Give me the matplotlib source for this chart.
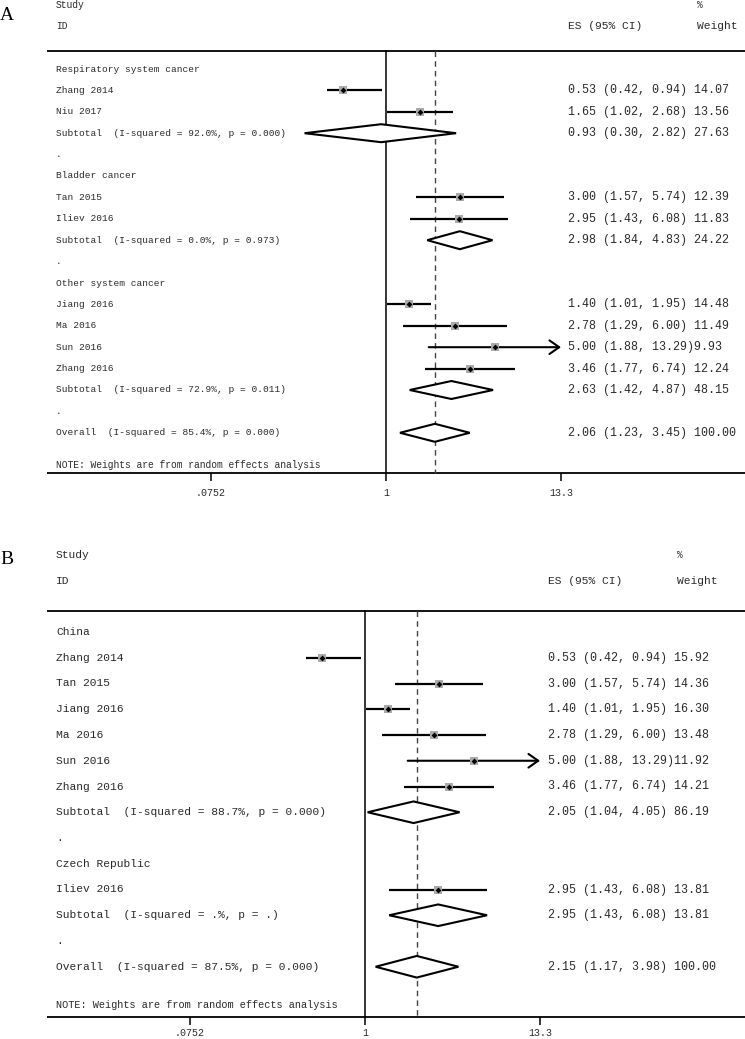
import numpy as np
import matplotlib
matplotlib.use("Agg")
import matplotlib.pyplot as plt
from matplotlib.patches import Polygon
from matplotlib.transforms import blended_transform_factory

# ---------------- data ----------------
# Panel A
labels_a = ["Respiratory system cancer", "Zhang 2014", "Niu 2017",
            "Subtotal  (I-squared = 92.0%, p = 0.000)", ".",
            "Bladder cancer", "Tan 2015", "Iliev 2016",
            "Subtotal  (I-squared = 0.0%, p = 0.973)", ".",
            "Other system cancer", "Jiang 2016", "Ma 2016", "Sun 2016", "Zhang 2016",
            "Subtotal  (I-squared = 72.9%, p = 0.011)", ".",
            "Overall  (I-squared = 85.4%, p = 0.000)"]
kinds_a = ["h", "s", "s", "d", "b", "h", "s", "s", "d", "b",
           "h", "s", "s", "s", "s", "d", "b", "d"]
es_a = [None, 0.53, 1.65, 0.93, None, None, 3.00, 2.95, 2.98, None,
        None, 1.40, 2.78, 5.00, 3.46, 2.63, None, 2.06]
lo_a = [None, 0.42, 1.02, 0.30, None, None, 1.57, 1.43, 1.84, None,
        None, 1.01, 1.29, 1.88, 1.77, 1.42, None, 1.23]
hi_a = [None, 0.94, 2.68, 2.82, None, None, 5.74, 6.08, 4.83, None,
        None, 1.95, 6.00, 13.29, 6.74, 4.87, None, 3.45]
wt_a = [None, 14.07, 13.56, 27.63, None, None, 12.39, 11.83, 24.22, None,
        None, 14.48, 11.49, 9.93, 12.24, 48.15, None, 100.00]

# Panel B
labels_b = ["China", "Zhang 2014", "Tan 2015", "Jiang 2016", "Ma 2016", "Sun 2016",
            "Zhang 2016", "Subtotal  (I-squared = 88.7%, p = 0.000)", ".",
            "Czech Republic", "Iliev 2016", "Subtotal  (I-squared = .%, p = .)", ".",
            "Overall  (I-squared = 87.5%, p = 0.000)"]
kinds_b = ["h", "s", "s", "s", "s", "s", "s", "d", "b", "h", "s", "d", "b", "d"]
es_b = [None, 0.53, 3.00, 1.40, 2.78, 5.00, 3.46, 2.05, None, None, 2.95, 2.95, None, 2.15]
lo_b = [None, 0.42, 1.57, 1.01, 1.29, 1.88, 1.77, 1.04, None, None, 1.43, 1.43, None, 1.17]
hi_b = [None, 0.94, 5.74, 1.95, 6.00, 13.29, 6.74, 4.05, None, None, 6.08, 6.08, None, 3.98]
wt_b = [None, 15.92, 14.36, 16.30, 13.48, 11.92, 14.21, 86.19, None, None, 13.81, 13.81, None, 100.00]

xticks = [0.0752, 1, 13.3]
xticklabels = [".0752", "1", "13.3"]
note = "NOTE: Weights are from random effects analysis"

# ---------------- layout ----------------
W, H = 745, 1039
fig = plt.figure(figsize=(W / 100, H / 100), dpi=100)
MONO = "Liberation Mono"
TXT = "#2a2a2a"


def fx(p):
    return p / W


def draw_panel(letter, letter_y, y_top, row0, row_h, y_ax, null_px,
               labels, kinds, es, lo, hi, wt,
               lab_fs, es_fs, head_fs, note_fs, es_x, wt_x, tick_pad):
    left_px = null_px - 175
    right_px = null_px + 175
    ax = fig.add_axes([fx(left_px), 1 - y_ax / H, fx(right_px - left_px), (y_ax - y_top) / H])
    ax.set_xscale("log")
    ax.set_xlim(xticks[0], xticks[-1])
    top_row = (y_top - row0) / row_h
    bot_row = (y_ax - row0) / row_h
    ax.set_ylim(bot_row, top_row)
    for s in ax.spines.values():
        s.set_visible(False)
    ax.set_yticks([])
    ax.set_xticks(xticks)
    ax.set_xticklabels(xticklabels, fontfamily=MONO, fontsize=7.2, color=TXT)
    ax.minorticks_off()
    ax.tick_params(axis="x", direction="out", length=6, width=1.1, pad=tick_pad, color="black")
    ax.patch.set_alpha(0)

    tr = blended_transform_factory(fig.transFigure, ax.transData)
    line_row = -0.83

    # horizontal rules
    ax.plot([fx(47), 1.0], [line_row, line_row], color="black", lw=1.3,
            transform=tr, clip_on=False, solid_capstyle="butt")
    ax.plot([fx(47), 1.0], [bot_row, bot_row], color="black", lw=1.3,
            transform=tr, clip_on=False, solid_capstyle="butt")

    # null line and overall dashed line
    ax.plot([1, 1], [line_row, bot_row], color="black", lw=1.1, clip_on=False)
    overall = es[-1]
    ax.plot([overall, overall], [line_row, bot_row], color="#444444", lw=1.0,
            linestyle=(0, (4, 3)), clip_on=False)

    # headers
    ax.text(fx(56), -3.0, "Study", transform=tr, fontfamily=MONO, fontsize=head_fs[0],
            color=TXT, va="center", ha="left")
    ax.text(fx(56), -2.0, "ID", transform=tr, fontfamily=MONO, fontsize=head_fs[0],
            color=TXT, va="center", ha="left")
    ax.text(fx(es_x), -2.0, "ES (95% CI)", transform=tr, fontfamily=MONO,
            fontsize=head_fs[1], color=TXT, va="center", ha="left")
    ax.text(fx(wt_x), -3.0, "%", transform=tr, fontfamily=MONO,
            fontsize=head_fs[1] * 0.85, color=TXT, va="center", ha="left")
    ax.text(fx(wt_x), -2.0, "Weight", transform=tr, fontfamily=MONO,
            fontsize=head_fs[1], color=TXT, va="center", ha="left")

    fig.text(0.0, 1 - letter_y / H, letter, fontfamily="Liberation Serif", fontsize=14,
             color="black", va="center", ha="left")

    xmax = xticks[-1]
    for r, (lab, k) in enumerate(zip(labels, kinds)):
        ax.text(fx(56), r, lab, transform=tr, fontfamily=MONO, fontsize=lab_fs,
                color=TXT, va="center", ha="left")
        if k in ("s", "d"):
            e, l, h, w = es[r], lo[r], hi[r], wt[r]
            s = f"{e:.2f} ({l:.2f}, {h:.2f})"
            ax.text(fx(es_x), r, f"{s:<18}{w:.2f}", transform=tr, fontfamily=MONO,
                    fontsize=es_fs, color=TXT, va="center", ha="left")
        if k == "s":
            if h >= 0.99 * xmax:
                ax.annotate("", xy=(xmax, r), xytext=(l, r), annotation_clip=False,
                            arrowprops=dict(arrowstyle="->,head_length=0.5,head_width=0.35",
                                            lw=1.5, color="black", mutation_scale=14,
                                            shrinkA=0, shrinkB=0))
            else:
                ax.plot([l, h], [r, r], color="black", lw=1.6, clip_on=False,
                        solid_capstyle="butt", zorder=2)
            ax.plot([e], [r], marker="s", markersize=1.6 * np.sqrt(w),
                    color="#aaaaaa", markeredgewidth=0, zorder=3, clip_on=False)
            ax.plot([e], [r], marker="D", markersize=3.0, color="black",
                    markeredgewidth=0, zorder=4, clip_on=False)
        elif k == "d":
            poly = Polygon([(l, r), (e, r - 0.42), (h, r), (e, r + 0.42)], closed=True,
                           facecolor="white", edgecolor="black", lw=1.5, zorder=3,
                           clip_on=False, joinstyle="miter")
            ax.add_patch(poly)

    note_row = len(labels) + 0.5
    ax.text(fx(56), note_row, note, transform=tr, fontfamily=MONO, fontsize=note_fs,
            color=TXT, va="center", ha="left")
    return ax


draw_panel("A", 15, 0, 69, 21.4, 473, 386, labels_a, kinds_a, es_a, lo_a, hi_a, wt_a,
           lab_fs=6.8, es_fs=8.4, head_fs=(6.9, 8.1), note_fs=6.9, es_x=568, wt_x=697,
           tick_pad=5)
draw_panel("B", 560, 540, 632, 25.75, 1017, 365, labels_b, kinds_b, es_b, lo_b, hi_b, wt_b,
           lab_fs=8.1, es_fs=8.4, head_fs=(8.1, 8.1), note_fs=7.4, es_x=548, wt_x=677,
           tick_pad=2)

fig.savefig("out.png", dpi=100)
